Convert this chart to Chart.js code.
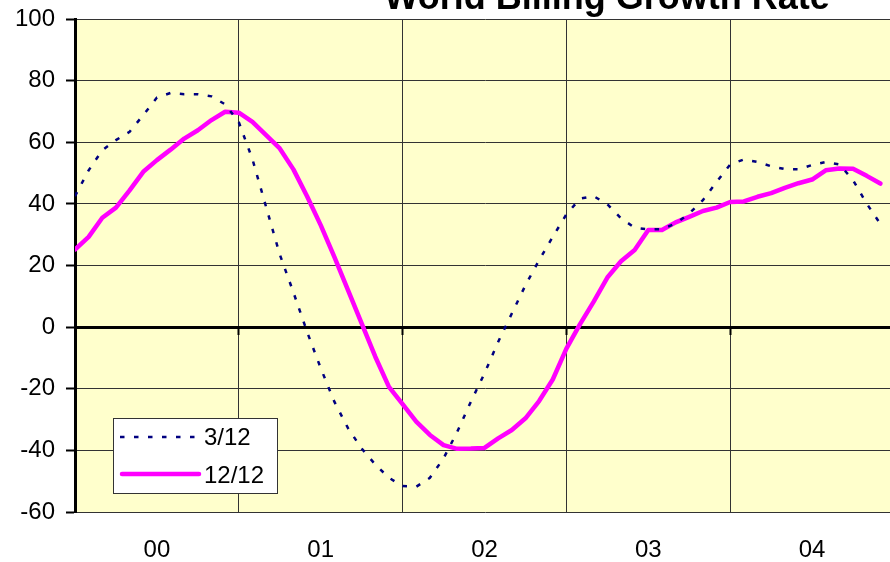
<!DOCTYPE html>
<html>
<head>
<meta charset="utf-8">
<script src="https://cdn.jsdelivr.net/npm/chart.js@4"></script>
<style>
    body { margin: 0; background: #fff; overflow: hidden; }
    #wrap { position: relative; width: 900px; height: 562px; }
</style>
</head>
<body>
<div id="wrap"><canvas id="growthChart" width="900" height="562"></canvas></div>
<script>
// values, one per month from Jan 00 to Dec 04
var yearLabels = ['00', '01', '02', '03', '04'];
var seriesNames = ['3/12', '12/12'];
var series312 = [
    42.5, 50.9, 57.4, 60.7, 63.4, 68.8, 74.5, 76.0, 75.6, 75.6, 74.9, 72.3,
    66.5, 54.5, 39.0, 23.6, 11.3, -1.5, -13.3, -24.2, -32.8, -39.4, -44.6, -48.9,
    -51.6, -51.8, -48.9, -42.6, -34.0, -24.2, -15.0, -4.8, 4.4, 13.6, 21.7, 29.3,
    36.6, 41.7, 42.5, 39.9, 35.3, 32.3, 31.7, 31.8, 33.6, 36.9, 41.2, 47.1,
    52.8, 54.4, 53.6, 52.2, 51.3, 51.2, 52.6, 53.6, 52.8, 47.7, 40.1, 33.5
];
var series1212 = [
    25.2, 29.3, 35.5, 38.8, 44.4, 50.4, 54.2, 57.6, 61.2, 63.9, 67.2, 69.9,
    69.6, 66.6, 62.3, 58.0, 51.2, 42.5, 33.1, 22.8, 12.0, 1.2, -9.6, -19.4,
    -25.0, -30.7, -35.0, -38.3, -39.5, -39.4, -39.2, -36.1, -33.4, -29.6, -24.0, -17.0,
    -7.0, 1.0, 8.3, 16.1, 21.4, 25.0, 31.5, 31.5, 34.0, 35.8, 37.7, 38.8,
    40.6, 40.8, 42.3, 43.5, 45.2, 46.7, 47.9, 50.9, 51.5, 51.4, 49.1, 46.6
];
var chartTitle = 'World Billing Growth Rate';

var FONT = '"Liberation Sans", Arial, sans-serif';
Chart.defaults.font.family = FONT;
Chart.defaults.color = '#000';

var monthIndex = [];
for (var i = 0; i < series1212.length; i++) {
    monthIndex.push(i);
}

var bgPlugin = {
    id: 'plotBg',
    beforeDraw: function(chart) {
        var a = chart.chartArea;
        var ctx = chart.ctx;
        ctx.save();
        ctx.fillStyle = '#FFFFCC';
        ctx.fillRect(a.left, a.top, a.right - a.left, a.bottom - a.top);
        ctx.restore();
    }
};

// title sits off-centre and half cut at the top, legend sits inside the plot
var extrasPlugin = {
    id: 'extras',
    afterDraw: function(chart) {
        var ctx = chart.ctx;
        ctx.save();
        ctx.fillStyle = '#000';
        ctx.font = 'bold 36px ' + FONT;
        ctx.textAlign = 'center';
        ctx.textBaseline = 'alphabetic';
        ctx.fillText(chartTitle, 607, 8.5);

        ctx.fillStyle = '#fff';
        ctx.fillRect(113.5, 418.5, 164, 75);
        ctx.strokeStyle = '#333';
        ctx.lineWidth = 1;
        ctx.strokeRect(113.5, 418.5, 164, 75);

        ctx.strokeStyle = '#000080';
        ctx.lineWidth = 2.5;
        ctx.setLineDash([4.5, 9.5]);
        ctx.beginPath();
        ctx.moveTo(120, 437);
        ctx.lineTo(202, 437);
        ctx.stroke();

        ctx.setLineDash([]);
        ctx.strokeStyle = '#FF00FF';
        ctx.lineWidth = 4.5;
        ctx.lineCap = 'round';
        ctx.beginPath();
        ctx.moveTo(122, 474);
        ctx.lineTo(199, 474);
        ctx.stroke();

        ctx.fillStyle = '#000';
        ctx.font = '24px ' + FONT;
        ctx.textAlign = 'left';
        ctx.textBaseline = 'middle';
        ctx.fillText(seriesNames[0], 204, 438);
        ctx.fillText(seriesNames[1], 204, 476);
        ctx.restore();
    }
};

var ctx = document.getElementById('growthChart');
new Chart(ctx, {
    type: 'line',
    data: {
        labels: monthIndex,
        datasets: [{
            label: seriesNames[0],
            data: series312,
            borderColor: '#000080',
            borderWidth: 2.5,
            borderDash: [4.5, 9.5],
            pointRadius: 0,
            tension: 0,
            fill: false
        }, {
            label: seriesNames[1],
            data: series1212,
            borderColor: '#FF00FF',
            borderWidth: 4.5,
            borderJoinStyle: 'round',
            borderCapStyle: 'round',
            pointRadius: 0,
            tension: 0,
            fill: false
        }]
    },
    options: {
        responsive: false,
        animation: false,
        devicePixelRatio: 1,
        layout: { padding: { top: 19, right: 6, left: 0, bottom: 0 } },
        plugins: {
            legend: { display: false },
            title: { display: false },
            tooltip: { enabled: false }
        },
        scales: {
            x: {
                type: 'linear',
                min: 0,
                max: 60,
                position: { y: 0 },
                ticks: { display: false, stepSize: 12 },
                grid: { color: '#333', lineWidth: 1, tickLength: 6, tickColor: '#000', tickWidth: 2 },
                border: { color: '#000', width: 3 }
            },
            years: {
                type: 'linear',
                axis: 'x',
                position: 'bottom',
                min: 0,
                max: 60,
                afterBuildTicks: function(scale) {
                    scale.ticks = yearLabels.map(function(l, k) {
                        return { value: k * 12 + 6 };
                    });
                },
                afterFit: function(scale) { scale.height = 50; },
                ticks: {
                    autoSkip: false,
                    maxRotation: 0,
                    padding: 24,
                    font: { size: 24 },
                    callback: function(v, k) { return yearLabels[k]; }
                },
                grid: { display: false, drawTicks: false },
                border: { display: false }
            },
            y: {
                min: -60,
                max: 100,
                afterFit: function(scale) {
                    scale.width = 75;
                    scale.paddingTop = 0;
                    scale.paddingBottom = 0;
                },
                ticks: { stepSize: 20, padding: 11, font: { size: 24 } },
                grid: { color: '#333', lineWidth: 1, tickLength: 9, tickColor: '#000', tickWidth: 2 },
                border: { color: '#000', width: 3 }
            }
        }
    },
    plugins: [bgPlugin, extrasPlugin]
});
</script>
</body>
</html>
